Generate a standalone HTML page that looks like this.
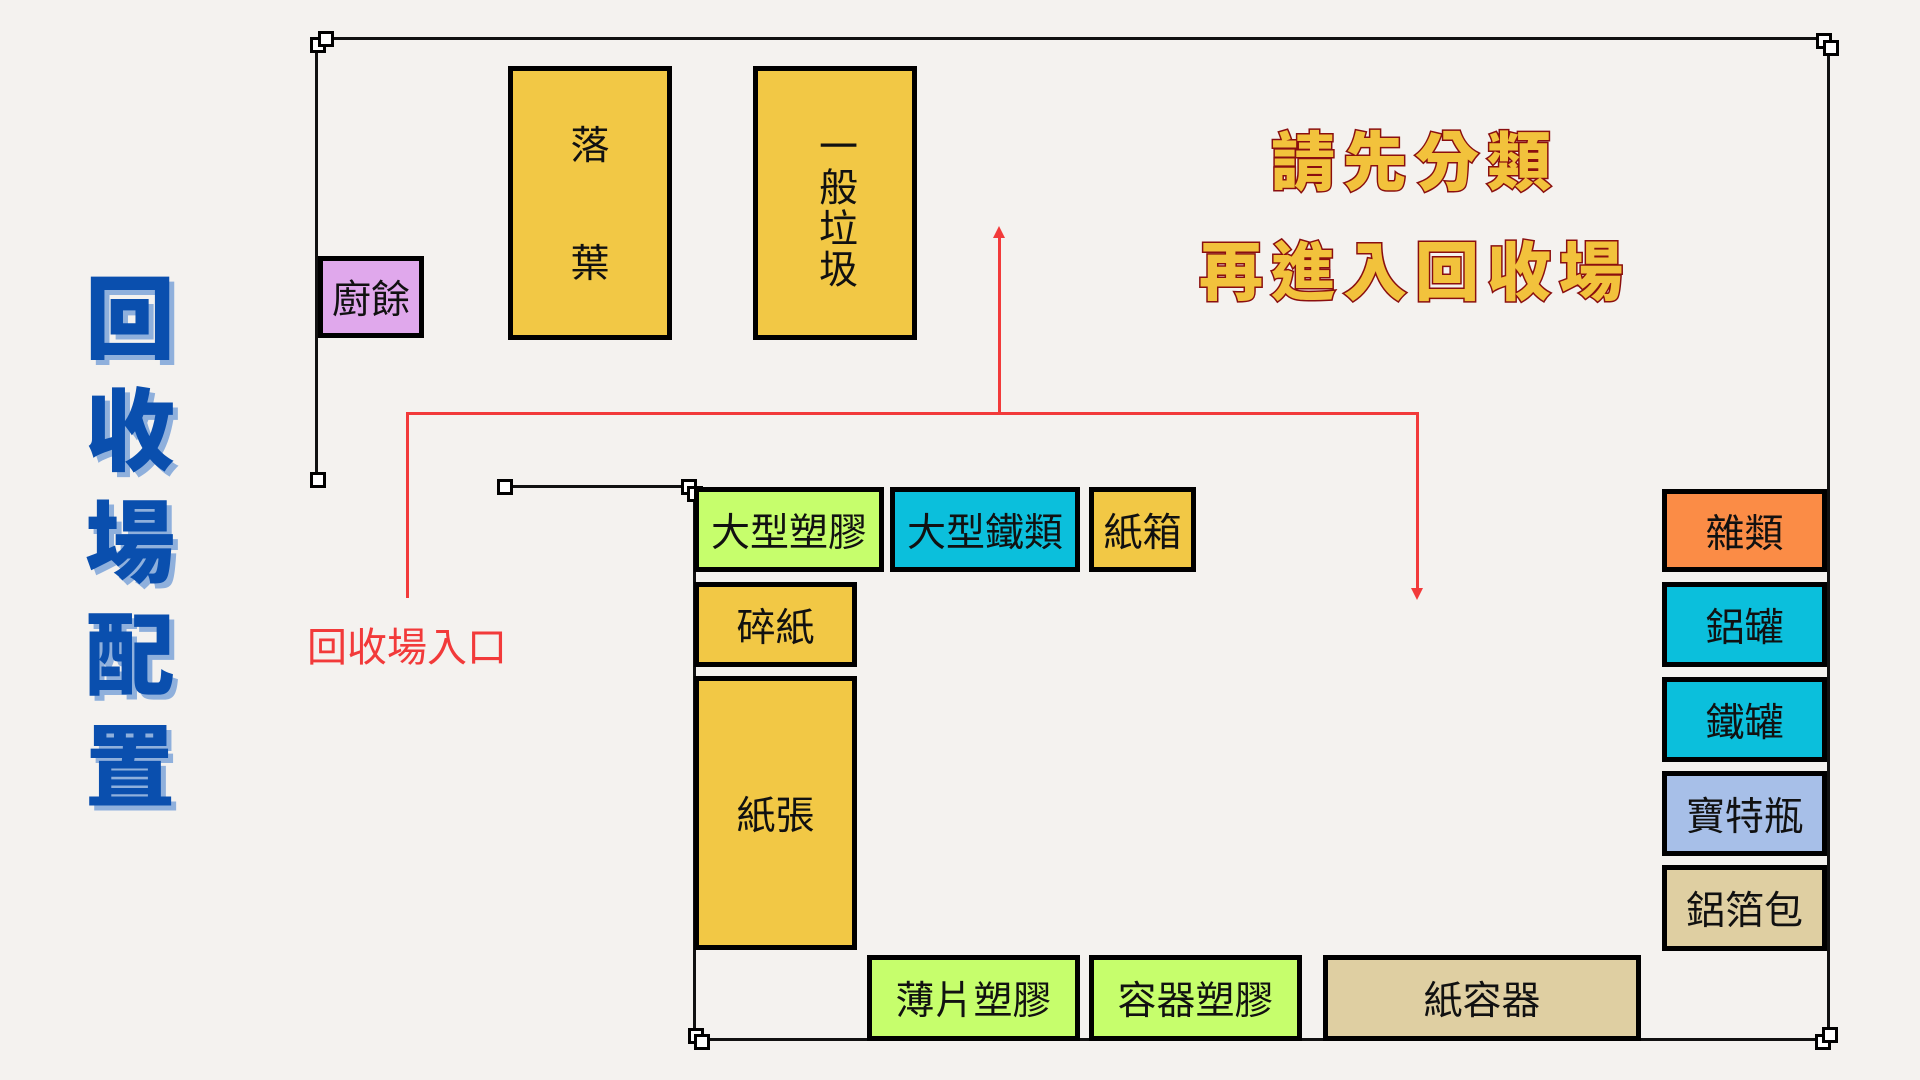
<!DOCTYPE html>
<html><head><meta charset="utf-8"><style>
body{margin:0;width:1920px;height:1080px;background:#f4f2ef;position:relative;overflow:hidden;font-family:"Liberation Sans","Noto Sans CJK TC",sans-serif}
.b{position:absolute;box-sizing:border-box;border:5px solid #000;display:flex;align-items:center;justify-content:center;font-size:39px;color:#111}
.l{position:absolute;background:#111}
.r{position:absolute;background:#f23a3a}
.h{position:absolute;width:10px;height:10px;border:3px solid #000;background:#fff;box-sizing:content-box}
.y{background:#f2c845}.g{background:#c6fe6c}.c{background:#0bbfdc}.t{background:#dfcfa2}
</style></head><body>
<div style="position:absolute;left:80px;top:256px;width:100px;font-size:90px;font-weight:900;color:#0a4fae;line-height:112px;text-align:center;text-shadow:5px 5px 0 #8fb0dc;font-family:'Noto Sans CJK TC',sans-serif">回<br>收<br>場<br>配<br>置</div>
<div style="position:absolute;left:1180px;top:103px;width:470px;text-align:center;font-size:64px;font-weight:900;color:#f2c23c;-webkit-text-stroke:3px #8a0f0f;paint-order:stroke fill;line-height:110px;letter-spacing:8px;font-family:'Noto Sans CJK TC',sans-serif">請先分類<br>再進入回收場</div>
<!-- black lines -->
<div class="l" style="left:315px;top:37px;width:3px;height:443px"></div>
<div class="l" style="left:322px;top:37px;width:1504px;height:3px"></div>
<div class="l" style="left:1827px;top:42px;width:3px;height:993px"></div>
<div class="l" style="left:694px;top:1038px;width:1132px;height:3px"></div>
<div class="l" style="left:693px;top:487px;width:3px;height:548px"></div>
<div class="l" style="left:504px;top:485px;width:186px;height:3px"></div>
<div class="h" style="left:310px;top:37px"></div><div class="h" style="left:318px;top:31px"></div>
<div class="h" style="left:310px;top:472px"></div>
<div class="h" style="left:497px;top:479px"></div><div class="h" style="left:681px;top:479px"></div><div class="h" style="left:687px;top:486px"></div>
<div class="h" style="left:1816px;top:33px"></div><div class="h" style="left:1823px;top:40px"></div>
<div class="h" style="left:688px;top:1028px"></div><div class="h" style="left:694px;top:1034px"></div>
<div class="h" style="left:1815px;top:1034px"></div><div class="h" style="left:1822px;top:1027px"></div>
<!-- red -->
<div class="r" style="left:406px;top:412px;width:1012px;height:3px"></div>
<div class="r" style="left:406px;top:412px;width:3px;height:186px"></div>
<div class="r" style="left:1416px;top:412px;width:3px;height:178px"></div>
<div class="r" style="left:998px;top:234px;width:3px;height:180px"></div>
<div style="position:absolute;left:993px;top:226px;border-left:6px solid transparent;border-right:6px solid transparent;border-bottom:12px solid #f23a3a"></div>
<div style="position:absolute;left:1411px;top:588px;border-left:6px solid transparent;border-right:6px solid transparent;border-top:12px solid #f23a3a"></div>
<div style="position:absolute;left:307px;top:615px;font-size:40px;color:#f23a3a">回收場入口</div>
<!-- boxes -->
<div class="b" style="left:318px;top:256px;width:106px;height:82px;background:#e0a8ec">廚餘</div>
<div class="b y" style="left:508px;top:66px;width:164px;height:274px;flex-direction:column;justify-content:space-between;padding:44px 0 46px">
<span>落</span><span>葉</span></div>
<div class="b y" style="left:753px;top:66px;width:164px;height:274px;writing-mode:vertical-rl;line-height:1;letter-spacing:2px;padding-top:10px">一般垃圾</div>
<div class="b g" style="left:694px;top:487px;width:190px;height:85px">大型塑膠</div>
<div class="b c" style="left:890px;top:487px;width:190px;height:85px">大型鐵類</div>
<div class="b y" style="left:1089px;top:487px;width:107px;height:85px">紙箱</div>
<div class="b y" style="left:694px;top:582px;width:163px;height:85px">碎紙</div>
<div class="b y" style="left:694px;top:676px;width:163px;height:274px">紙張</div>
<div class="b g" style="left:867px;top:955px;width:213px;height:86px">薄片塑膠</div>
<div class="b g" style="left:1089px;top:955px;width:213px;height:86px">容器塑膠</div>
<div class="b t" style="left:1323px;top:955px;width:318px;height:86px">紙容器</div>
<div class="b" style="left:1662px;top:489px;width:165px;height:83px;background:#fb8c46">雜類</div>
<div class="b c" style="left:1662px;top:582px;width:165px;height:85px">鋁罐</div>
<div class="b c" style="left:1662px;top:677px;width:165px;height:85px">鐵罐</div>
<div class="b" style="left:1662px;top:771px;width:165px;height:85px;background:#a7bfe8">寶特瓶</div>
<div class="b t" style="left:1662px;top:865px;width:165px;height:86px">鋁箔包</div>
</body></html>
